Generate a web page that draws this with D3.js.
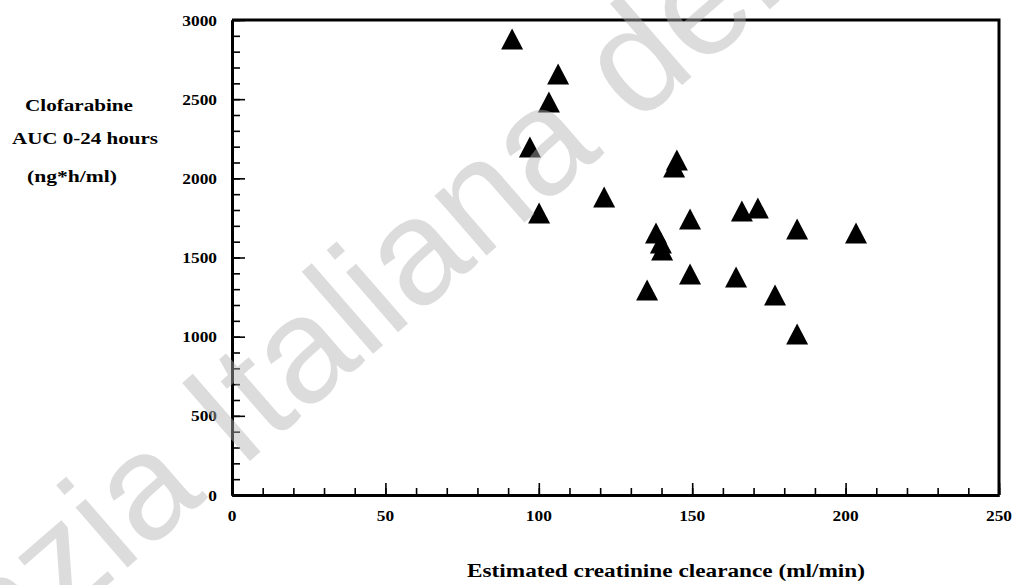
<!DOCTYPE html>
<html><head><meta charset="utf-8">
<script src="https://cdn.jsdelivr.net/npm/d3@7"></script>
<style>
html,body{margin:0;padding:0;background:#fff;}
svg{display:block;}
text{font-family:"Liberation Serif","Times New Roman",serif;font-weight:bold;fill:#000;}
</style></head><body>
<svg id="chart" width="1013" height="585"></svg>
<script>
// ---- data ----
const clearance = [91.3,106.3,103.3,97.1,121.3,100.1,145.0,144.1,149.3,138.2,139.8,140.2,135.3,149.3,166.2,171.4,184.2,203.4,164.3,177.0,184.2];
const auc       = [2880,2659,2482,2198,1882,1781,2116,2072,1743,1655,1592,1547,1295,1396,1794,1813,1680,1655,1377,1263,1017];
const xTickLabels = [0,50,100,150,200,250];
const yTickLabels = [0,500,1000,1500,2000,2500,3000];
const xMinorTicks = d3.range(0,251,10);
const yMinorTicks = d3.range(0,3001,100);
const xTitle = "Estimated creatinine clearance (ml/min)";
const yTitleLines = ["Clofarabine","AUC 0-24 hours","(ng*h/ml)"];
const watermark = "Agenzia Italiana del Farmaco";

const svg = d3.select("#chart");
const L=232, R=999, T=20, B=495;
const x = d3.scaleLinear().domain([0,250]).range([L,R]);
const y = d3.scaleLinear().domain([0,3000]).range([B,T]);
const SX = 1.24;

// frame top/right
svg.append("path").attr("d",`M${L},${T}H${R}V${B}`).attr("fill","none").attr("stroke","#000").attr("stroke-width",3);

// axes: minor & major ticks pointing inward
const gxMinor = svg.append("g").attr("transform",`translate(0,${B})`)
  .call(d3.axisBottom(x).tickValues(xMinorTicks).tickSizeInner(-7).tickSizeOuter(0).tickFormat(""));
const gx = svg.append("g").attr("transform",`translate(0,${B})`)
  .call(d3.axisBottom(x).tickValues(xTickLabels).tickSizeInner(-12).tickSizeOuter(0).tickFormat(""));
const gyMinor = svg.append("g").attr("transform",`translate(${L},0)`)
  .call(d3.axisLeft(y).tickValues(yMinorTicks).tickSizeInner(-8).tickSizeOuter(0).tickFormat(""));
const gy = svg.append("g").attr("transform",`translate(${L},0)`)
  .call(d3.axisLeft(y).tickValues(yTickLabels).tickSizeInner(-13).tickSizeOuter(0).tickFormat(""));
[gxMinor,gx,gyMinor,gy].forEach(g=>{
  g.selectAll(".tick line").attr("stroke","#000").attr("stroke-width",1.6);
  g.select(".domain").attr("stroke","#000").attr("stroke-width",3);
});

// tick labels
svg.append("g").selectAll("text").data(xTickLabels).join("text")
  .attr("transform",d=>`translate(${x(d)},521) scale(${SX},1)`)
  .attr("text-anchor","middle").attr("font-size",14).text(d=>d);
svg.append("g").selectAll("text").data(yTickLabels).join("text")
  .attr("transform",d=>`translate(217,${y(d)+5.5}) scale(${SX},1)`)
  .attr("text-anchor","end").attr("font-size",14).text(d=>d);

// titles
svg.append("text").attr("x",467).attr("y",577).attr("font-size",18)
  .attr("textLength",398).attr("lengthAdjust","spacingAndGlyphs").text(xTitle);
const yT = [{x:25,y:111,w:108},{x:12,y:144,w:146},{x:27,y:182,w:90}];
svg.append("g").selectAll("text").data(yTitleLines).join("text")
  .attr("x",(d,i)=>yT[i].x).attr("y",(d,i)=>yT[i].y).attr("font-size",17)
  .attr("textLength",(d,i)=>yT[i].w).attr("lengthAdjust","spacingAndGlyphs").text(d=>d);

// points
const pts = clearance.map((c,i)=>({c, a:auc[i]}));
svg.append("g").selectAll("path").data(pts).join("path")
  .attr("transform",d=>`translate(${x(d.c)},${y(d.a)})`)
  .attr("d","M0,-10.5L11,10.5L-11,10.5Z").attr("fill","#000");

// watermark overlay
svg.append("text").attr("transform","translate(-201,853) rotate(-41)")
  .style("font-family","'Liberation Sans',Arial,sans-serif").style("font-weight","normal")
  .attr("font-size",150).style("fill","#b3b3b3").attr("opacity",0.45).text(watermark);
</script></body></html>
